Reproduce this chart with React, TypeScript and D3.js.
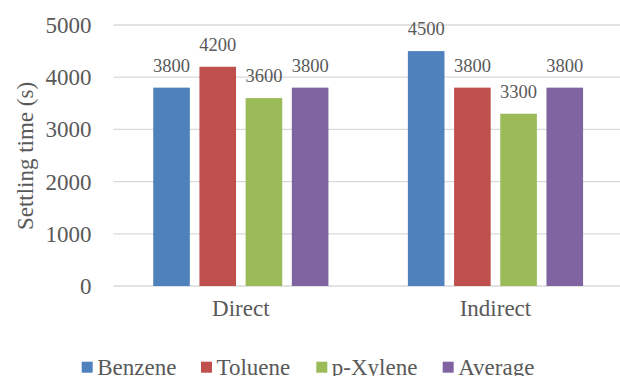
import React from "react";
import * as d3 from "d3";

const categories = ["Direct", "Indirect"];
const seriesNames = ["Benzene", "Toluene", "p-Xylene", "Average"];
const benzene = [3800, 4500];
const toluene = [4200, 3800];
const pXylene = [3600, 3300];
const average = [3800, 3800];
const yTicks = [0, 1000, 2000, 3000, 4000, 5000];
const colors = ["#4F81BD", "#C0504D", "#9BBB59", "#8064A2"];

const W = 620;
const H = 376;
const FONT = "Liberation Serif";
const TXT = "#595959";

export default function App() {
  const series = [benzene, toluene, pXylene, average];
  const y = d3.scaleLinear().domain([0, 5000]).range([286, 25]);
  const x0 = d3.scaleBand().domain(categories).range([113.5, 622.8]).paddingInner(0).paddingOuter(0);
  const innerStep = 46.2;
  const barW = 36.6;
  const x1 = d3
    .scaleBand()
    .domain(seriesNames)
    .range([-2 * innerStep, 2 * innerStep])
    .paddingInner(1 - barW / innerStep)
    .paddingOuter((1 - barW / innerStep) / 2);

  const legendX = [81.7, 201, 316.3, 442.7];

  return (
    <svg width={W} height={H} style={{ position: "absolute", left: 0, top: 0, background: "#fff", fontFamily: FONT }}>
      {yTicks.map((t) => (
        <g key={t}>
          <line x1={113.5} x2={622} y1={y(t)} y2={y(t)} stroke="#D9D9D9" strokeWidth={1.3} />
          <text x={91.5} y={y(t)} dy="0.35em" textAnchor="end" style={{ fontFamily: FONT }} fontSize={23} fill={TXT}>
            {t}
          </text>
        </g>
      ))}
      <text
        transform={`translate(25,156) rotate(-90)`}
        textAnchor="middle"
        dy="0.35em"
        style={{ fontFamily: FONT }}
        fontSize={23}
        fill={TXT}
      >
        Settling time (s)
      </text>
      {categories.map((c, ci) => {
        const cx = (x0(c) as number) + x0.bandwidth() / 2;
        return (
          <g key={c}>
            {seriesNames.map((s, si) => {
              const v = series[si][ci];
              const bx = cx + (x1(s) as number);
              return (
                <g key={s}>
                  <rect x={bx} y={y(v)} width={x1.bandwidth()} height={y(0) - y(v)} fill={colors[si]} />
                  <text
                    x={bx + x1.bandwidth() / 2}
                    y={y(v) - 16}
                    textAnchor="middle"
                    style={{ fontFamily: FONT }}
                    fontSize={18.5}
                    fill={TXT}
                  >
                    {v}
                  </text>
                </g>
              );
            })}
            <text x={cx} y={316} textAnchor="middle" style={{ fontFamily: FONT }} fontSize={23} fill={TXT}>
              {c}
            </text>
          </g>
        );
      })}
      {seriesNames.map((s, si) => (
        <g key={s}>
          <rect x={legendX[si]} y={361.7} width={11} height={11} fill={colors[si]} />
          <text x={legendX[si] + 15.5} y={375} style={{ fontFamily: FONT }} fontSize={23} fill={TXT}>
            {s}
          </text>
        </g>
      ))}
    </svg>
  );
}
